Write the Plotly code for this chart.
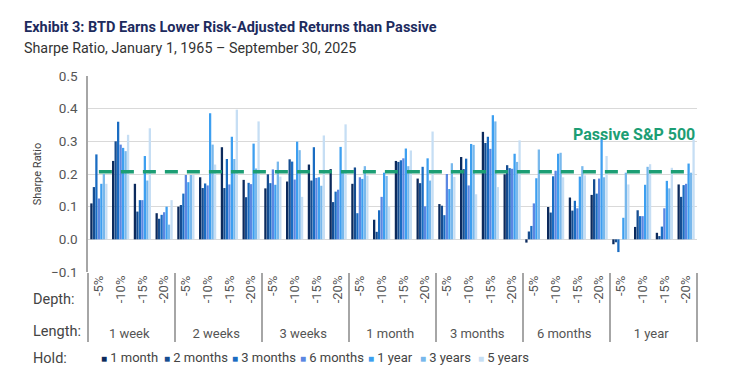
import plotly.graph_objects as go

lengths = ["1 week", "2 weeks", "3 weeks", "1 month", "3 months", "6 months", "1 year"]
depths = ["-5%", "-10%", "-15%", "-20%"]
holds = ["1 month", "2 months", "3 months", "6 months", "1 year", "3 years", "5 years"]
colors = ["#0c2a5c", "#164d90", "#1a6cc2", "#5b87e2", "#3d9ff0", "#78b8ec", "#c6def4"]

# values per hold period, ordered by length then depth (28 groups)
hold_1m = [0.11, 0.24, 0.17, 0.08, 0.10, 0.19, 0.282, 0.182, 0.156, 0.177, 0.229, 0.215,
           0.17, 0.06, 0.24, 0.186, 0.108, 0.252, 0.329, 0.199, -0.01, 0.099, 0.128, 0.136,
           -0.015, 0.038, 0.02, 0.168]
hold_2m = [0.16, 0.30, 0.085, 0.063, 0.105, 0.157, 0.157, 0.129, 0.199, 0.245, 0.18, 0.114,
           0.22, 0.023, 0.237, 0.172, 0.103, 0.215, 0.295, 0.227, 0.024, 0.082, 0.088, 0.184,
           -0.009, 0.089, 0.01, 0.13]
hold_3m = [0.26, 0.36, 0.12, 0.075, 0.14, 0.171, 0.246, 0.173, 0.172, 0.238, 0.282, 0.146,
           0.08, 0.089, 0.242, 0.222, 0.074, 0.247, 0.314, 0.218, 0.041, 0.193, 0.118, 0.14,
           -0.039, 0.071, 0.039, 0.166]
hold_6m = [0.125, 0.29, 0.12, 0.083, 0.197, 0.165, 0.168, 0.169, 0.214, 0.183, 0.188, 0.152,
           0.19, 0.13, 0.248, 0.101, 0.20, 0.165, 0.277, 0.216, 0.11, 0.21, 0.095, 0.186,
           0.0, 0.071, 0.095, 0.17]
hold_1y = [0.17, 0.28, 0.255, 0.10, 0.175, 0.386, 0.314, 0.293, 0.167, 0.299, 0.19, 0.283,
           0.185, 0.204, 0.278, 0.248, 0.154, 0.292, 0.38, 0.262, 0.187, 0.262, 0.192, 0.31,
           0.066, 0.167, 0.179, 0.232]
hold_3y = [0.20, 0.27, 0.18, 0.045, 0.197, 0.29, 0.246, 0.217, 0.238, 0.273, 0.164, 0.206,
           0.224, 0.194, 0.224, 0.18, 0.233, 0.289, 0.361, 0.237, 0.275, 0.265, 0.224, 0.19,
           0.204, 0.222, 0.156, 0.204]
hold_5y = [0.17, 0.32, 0.34, 0.12, 0.197, 0.229, 0.397, 0.361, 0.192, 0.13, 0.318, 0.352,
           0.195, 0.10, 0.272, 0.33, 0.191, 0.138, 0.16, 0.303, 0.0, 0.19, 0.196, 0.255,
           0.168, 0.23, 0.219, 0.306]
series = [hold_1m, hold_2m, hold_3m, hold_6m, hold_1y, hold_3y, hold_5y]
passive_sp500 = 0.207

# non-breaking padding keeps the rotated depth labels' text unchanged but adds room below them
PAD = "\u00a0" * 3
x_outer = [l for l in lengths for _ in depths]
x_inner = [PAD + d for _ in lengths for d in depths]

# layout constants (pixels)
W, H = 740, 377
L, R, T, B = 88, 43, 76, 105
PW, PH = W - L - R, H - T - B
legend_x_px = [100, 163, 231, 299, 367, 419, 477]


def px_x(p):
    return (p - L) / PW


def px_y(p):
    return (H - B - p) / PH


font_family = "Roboto, Liberation Sans, sans-serif"
fig = go.Figure()
for name, vals, col in zip(holds, series, colors):
    fig.add_trace(go.Bar(x=[x_outer, x_inner], y=vals, name=name,
                         marker=dict(color=col, line=dict(width=0))))

fig.add_trace(go.Scatter(x=[x_outer, x_inner], y=[passive_sp500] * len(x_inner), mode="lines",
                         line=dict(color="#1c9e74", width=3.5, dash="13px,9px"),
                         showlegend=False, hoverinfo="skip"))

annotations = [
    dict(text="<b>Exhibit 3: BTD Earns Lower Risk-Adjusted Returns than Passive</b>",
         xref="paper", yref="paper", x=px_x(22), y=px_y(27), xanchor="left", yanchor="middle",
         showarrow=False, font=dict(size=14.5, color="#1d2b5e", family=font_family)),
    dict(text="Sharpe Ratio, January 1, 1965 – September 30, 2025",
         xref="paper", yref="paper", x=px_x(22), y=px_y(48), xanchor="left", yanchor="middle",
         showarrow=False, font=dict(size=14.3, color="#333333", family=font_family)),
    dict(text="<b>Passive S&P 500</b>", xref="paper", yref="y", x=px_x(634), y=0.322,
         xanchor="center", yanchor="middle", showarrow=False,
         font=dict(size=16, color="#1c9e74", family=font_family)),
]
for lab, yp in [("Depth:", 299), ("Length:", 331), ("Hold:", 358)]:
    annotations.append(dict(text=lab, xref="paper", yref="paper", x=px_x(31), y=px_y(yp),
                            xanchor="left", yanchor="middle", showarrow=False,
                            font=dict(size=14.5, color="#444444", family=font_family)))
for name, col, xp in zip(holds, colors, legend_x_px):
    annotations.append(dict(
        text=f"<span style='color:{col};font-size:10px'>■</span> {name}",
        xref="paper", yref="paper", x=px_x(xp - 1), y=px_y(357),
        xanchor="left", yanchor="middle", showarrow=False,
        font=dict(size=13, color="#444444", family=font_family)))

fig.update_layout(
    width=W, height=H,
    margin=dict(l=L, r=R, t=T, b=B),
    paper_bgcolor="white", plot_bgcolor="white",
    barmode="group", bargap=0.2, bargroupgap=0.08,
    font=dict(family=font_family, color="#444444", size=12),
    showlegend=False,
    annotations=annotations,
)
fig.update_yaxes(range=[-0.1, 0.5], dtick=0.1, tickformat=".1f", showgrid=True,
                 gridcolor="#d9d9d9", gridwidth=1, zeroline=False,
                 showline=True, linecolor="#a6a6a6", linewidth=1.5,
                 ticks="outside", ticklen=4, tickcolor="rgba(0,0,0,0)",
                 ticklabelstandoff=2,
                 tickfont=dict(size=13.5, color="#555555"),
                 title=dict(text="Sharpe Ratio", font=dict(size=11, color="#444444"), standoff=7))
fig.update_xaxes(type="multicategory", tickangle=-90, showline=False, showgrid=False,
                 ticks="outside", ticklen=4, tickcolor="rgba(0,0,0,0)",
                 tickfont=dict(size=13, color="#555555"),
                 dividercolor="#a6a6a6", dividerwidth=1.5, showdividers=True)

fig.write_html("out.html", config={"displayModeBar": False},
               post_script="document.body.style.margin='0';")
